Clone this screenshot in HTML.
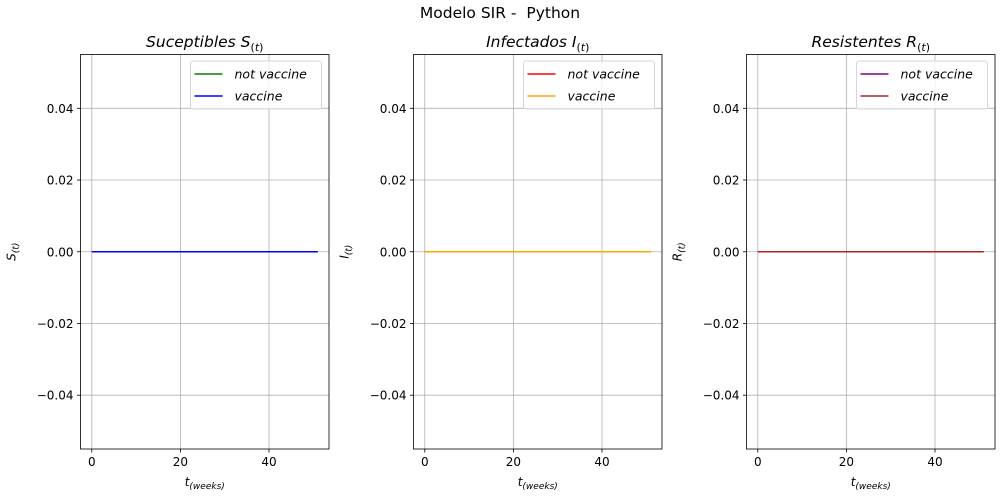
<!DOCTYPE html>
<html><head><meta charset="utf-8"><style>
body{margin:0;background:#fff;}
svg{display:block;font-family:"DejaVu Sans","Liberation Sans",sans-serif;}
</style></head><body>
<svg id="fig" width="1000" height="500">
<text x="500" y="18" font-size="15.5" text-anchor="middle">Modelo SIR -&#160; Python</text>
</svg>
<script>
const weeks = Array.from({length:52},(_,i)=>i);
const sNot = new Array(52).fill(0);
const sVac = new Array(52).fill(0);
const iNot = new Array(52).fill(0);
const iVac = new Array(52).fill(0);
const rNot = new Array(52).fill(0);
const rVac = new Array(52).fill(0);
const xTicks = [0,20,40];
const yTicks = [-0.04,-0.02,0,0.02,0.04];
const yTickLabels = ["\u22120.04","\u22120.02","0.00","0.02","0.04"];
const panels = [
 {name:"susceptibles",title:"Suceptibles ",sym:"S",left:80.5,series:[[sNot,"green","not vaccine"],[sVac,"blue","vaccine"]]},
 {name:"infectados",title:"Infectados ",sym:"I",left:413.5,series:[[iNot,"red","not vaccine"],[iVac,"orange","vaccine"]]},
 {name:"resistentes",title:"Resistentes ",sym:"R",left:746.5,series:[[rNot,"purple","not vaccine"],[rVac,"#b22222","vaccine"]]}
];
const NS="http://www.w3.org/2000/svg";
const svg=document.getElementById('fig');
function mk(tag,attrs,parent){const e=document.createElementNS(NS,tag);for(const k in attrs)e.setAttribute(k,attrs[k]);parent.appendChild(e);return e;}
const axTop=54.5,axH=394.5,axW=248.5,xmin=-2.55,xmax=53.55,ymin=-0.055,ymax=0.055;
panels.forEach(p=>{
 const g=mk('g',{},svg);
 
 
 const X=v=>p.left+(v-xmin)/(xmax-xmin)*axW;
 const Y=v=>axTop+(ymax-v)/(ymax-ymin)*axH;
 xTicks.forEach(t=>{
  const l=mk('line',{x1:X(t),x2:X(t),y1:axTop,y2:axTop+axH,stroke:'#b0b0b0','stroke-width':0.8},g);
  
  
  mk('line',{x1:X(t),x2:X(t),y1:axTop+axH,y2:axTop+axH+3.5,stroke:'#000','stroke-width':0.8},g);
  const tx=mk('text',{x:X(t),y:axTop+axH+17,'font-size':12,'text-anchor':'middle'},g);tx.textContent=t;
  
  
 });
 yTicks.forEach((t,i)=>{
  const l=mk('line',{x1:p.left,x2:p.left+axW,y1:Y(t),y2:Y(t),stroke:'#b0b0b0','stroke-width':0.8},g);
  
  
  mk('line',{x1:p.left-3.5,x2:p.left,y1:Y(t),y2:Y(t),stroke:'#000','stroke-width':0.8},g);
  const tx=mk('text',{x:p.left-7,y:Y(t)+4.5,'font-size':12,'text-anchor':'end'},g);tx.textContent=yTickLabels[i];
  
  
 });
 p.series.forEach(s=>{
  const d=weeks.map((wk,i)=>(i?'L':'M')+X(wk).toFixed(2)+','+Y(s[0][i]).toFixed(2)).join('');
  const pa=mk('path',{d:d,fill:'none',stroke:s[1],'stroke-width':1.5},g);
  
  
 });
 const fr=mk('rect',{x:p.left,y:axTop,width:axW,height:axH,fill:'none',stroke:'#000','stroke-width':0.8},g);
 
 
 const tt=mk('text',{x:p.left+axW/2,y:47,'font-size':15.5,'text-anchor':'middle','font-style':'italic'},g);
 tt.innerHTML=p.title+p.sym+'<tspan font-size="11" dy="4" font-style="normal">(</tspan><tspan font-size="11">t</tspan><tspan font-size="11" font-style="normal">)</tspan>';
 
 
 const xl=mk('text',{x:p.left+axW/2,y:486,'font-size':12,'text-anchor':'middle','font-style':'italic'},g);
 xl.innerHTML='t<tspan font-size="9" dy="3">(weeks)</tspan>';
 
 
 const yl=mk('text',{x:0,y:0,'font-size':12,'text-anchor':'middle','font-style':'italic',transform:`translate(${p.left-65},${axTop+axH/2}) rotate(-90)`},g);
 yl.innerHTML=p.sym+'<tspan font-size="9" dy="3">(t)</tspan>';
 
 
 const lg=mk('g',{},g);
 
 
 const lx=p.left+axW-138.5;
 mk('rect',{x:lx,y:61,width:131,height:48,rx:2.5,fill:'#fff','fill-opacity':0.8,stroke:'#d6d6d6','stroke-width':1},lg);
 p.series.forEach((s,i)=>{
  const yy=74+i*22;
  const ln=mk('line',{x1:lx+4,x2:lx+32,y1:yy,y2:yy,stroke:s[1],'stroke-width':1.5},lg);
  
  
  const t=mk('text',{x:lx+44,y:yy+4.5,'font-size':12.5,'font-style':'italic'},lg);t.textContent=s[2];
  
  
 });
});
</script>
</body></html>
